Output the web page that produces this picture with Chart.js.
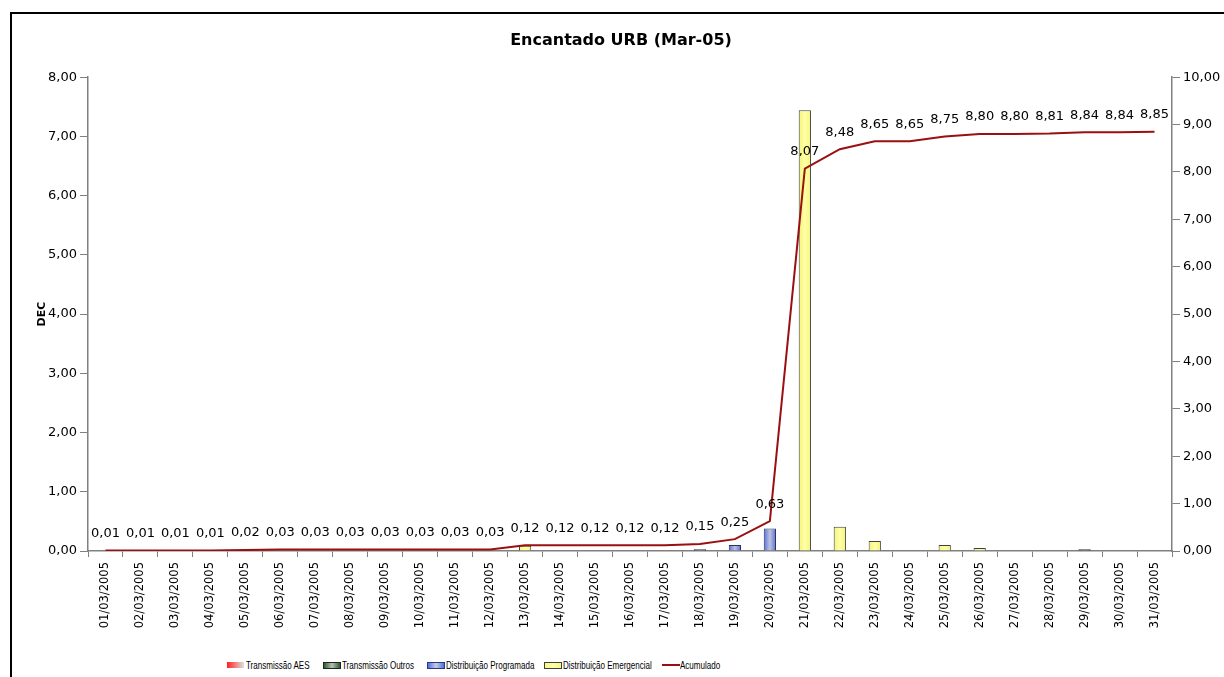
<!DOCTYPE html>
<html lang="pt">
<head>
  <meta charset="UTF-8">
  <title>Encantado URB (Mar-05)</title>
  <script src="https://cdn.jsdelivr.net/npm/chart.js"></script>
  <style>
    body { margin: 0; background: #fff; overflow: hidden; width: 1224px; height: 677px; position: relative; }
    .frame { position: absolute; left: 10px; top: 12px; width: 1330px; height: 700px; border: 2px solid #000; }
    .wrap { position: absolute; left: 12px; top: 13px; width: 1318px; height: 630px; }
    .legend { position: absolute; top: 657px; left: 0; width: 1224px; height: 16px;
      font-family: "Liberation Sans", Arial, sans-serif; font-size: 11px; color: #000; }
    .legend span { position: absolute; white-space: nowrap; line-height: 16px; transform: scaleX(0.73); transform-origin: left center; }
    .legend i { position: absolute; display: block; }
  </style>
</head>
<body>
  <div class="frame"></div>
  <div class="wrap"><canvas id="chartDec"></canvas></div>
  <div class="legend">
    <i style="left:227px; top:5px; width:17px; height:6px; background:linear-gradient(to right,#ff2020,#e0e0e0);"></i>
    <span style="left:246px;">Transmissão AES</span>
    <i style="left:323px; top:5px; width:16px; height:5px; border:1px solid #1a2a1a; background:linear-gradient(to right,#2f5a2f,#b8c0b8,#2f5a2f);"></i>
    <span style="left:342px;">Transmissão Outros</span>
    <i style="left:427px; top:5px; width:16px; height:5px; border:1px solid #2a3a80; background:linear-gradient(to right,#5070e8,#c8cce0,#5070e8);"></i>
    <span style="left:446px;">Distribuição Programada</span>
    <i style="left:544px; top:5px; width:16px; height:5px; border:1px solid #404040; background:linear-gradient(to right,#f8f880,#ffffa8,#f8f880);"></i>
    <span style="left:563px;">Distribuição Emergencial</span>
    <i style="left:662px; top:7px; width:18px; height:2px; background:#9a1010;"></i>
    <span style="left:680px;">Acumulado</span>
  </div>

  <script>
    var days = ["01/03/2005", "02/03/2005", "03/03/2005", "04/03/2005", "05/03/2005", "06/03/2005",
      "07/03/2005", "08/03/2005", "09/03/2005", "10/03/2005", "11/03/2005", "12/03/2005",
      "13/03/2005", "14/03/2005", "15/03/2005", "16/03/2005", "17/03/2005", "18/03/2005",
      "19/03/2005", "20/03/2005", "21/03/2005", "22/03/2005", "23/03/2005", "24/03/2005",
      "25/03/2005", "26/03/2005", "27/03/2005", "28/03/2005", "29/03/2005", "30/03/2005", "31/03/2005"];

    var transmissaoAES = [0, 0, 0, 0, 0, 0, 0, 0, 0, 0, 0, 0, 0, 0, 0, 0, 0, 0, 0, 0, 0, 0, 0, 0, 0, 0, 0, 0, 0, 0, 0];
    var transmissaoOutros = [0.01, 0, 0, 0, 0, 0, 0, 0, 0, 0, 0, 0, 0, 0, 0, 0, 0, 0.03, 0, 0, 0, 0, 0, 0, 0, 0, 0, 0.01, 0.03, 0, 0.01];
    var distProgramada = [0, 0, 0, 0, 0, 0, 0, 0, 0, 0, 0, 0, 0, 0, 0, 0, 0, 0, 0.10, 0.38, 0, 0, 0, 0, 0, 0, 0, 0, 0, 0, 0];
    var distEmergencial = [0, 0, 0, 0, 0, 0, 0, 0, 0, 0, 0, 0, 0.09, 0, 0, 0, 0, 0, 0, 0, 7.44, 0.41, 0.17, 0, 0.10, 0.05, 0, 0, 0, 0, 0];
    var acumulado = [0.01, 0.01, 0.01, 0.01, 0.02, 0.03, 0.03, 0.03, 0.03, 0.03, 0.03, 0.03,
      0.12, 0.12, 0.12, 0.12, 0.12, 0.15, 0.25, 0.63, 8.07, 8.48, 8.65, 8.65, 8.75, 8.80,
      8.80, 8.81, 8.84, 8.84, 8.85];

    var fontFamily = "'DejaVu Sans', Verdana, sans-serif";
    var barPct = 0.35;

    function fmt(v) {
      return Number(v).toFixed(2).replace(".", ",");
    }

    // Excel-like shading: colour at edges, lighter in the middle
    function shaded(edge, mid) {
      return function (c) {
        var chart = c.chart;
        var xs = chart.scales.x;
        if (!chart.chartArea || !xs || c.dataIndex === undefined) return edge;
        var cx = xs.getPixelForValue(c.dataIndex);
        var half = (xs.width / days.length) * barPct / 2;
        if (!isFinite(cx) || !isFinite(half) || half <= 0) return edge;
        var g = chart.ctx.createLinearGradient(cx - half, 0, cx + half, 0);
        g.addColorStop(0, edge);
        g.addColorStop(0.5, mid);
        g.addColorStop(1, edge);
        return g;
      };
    }

    var valueLabels = {
      id: "valueLabels",
      afterDatasetsDraw: function (chart) {
        var meta = chart.getDatasetMeta(4);
        var ctx = chart.ctx;
        ctx.save();
        ctx.font = "13px " + fontFamily;
        ctx.fillStyle = "#000";
        ctx.textAlign = "center";
        ctx.textBaseline = "middle";
        meta.data.forEach(function (pt, i) {
          ctx.fillText(fmt(acumulado[i]), pt.x, pt.y - 17);
        });
        ctx.restore();
      }
    };

    function barSet(label, data, edge, mid, border) {
      return {
        type: "bar",
        label: label,
        data: data,
        yAxisID: "y",
        stack: "dec",
        order: 1,
        backgroundColor: shaded(edge, mid),
        borderColor: border,
        borderWidth: 1,
        barPercentage: barPct,
        categoryPercentage: 1
      };
    }

    new Chart(document.getElementById("chartDec"), {
      data: {
        labels: days,
        datasets: [
          barSet("Transmissão AES", transmissaoAES, "#ff2020", "#e0e0e0", "#802020"),
          barSet("Transmissão Outros", transmissaoOutros, "#203820", "#606860", "#000000"),
          barSet("Distribuição Programada", distProgramada, "#5070e8", "#c0c4d8", "#303050"),
          barSet("Distribuição Emergencial", distEmergencial, "#f4f478", "#ffffa8", "#404040"),
          {
            type: "line",
            label: "Acumulado",
            data: acumulado,
            yAxisID: "y1",
            order: 0,
            borderColor: "#9a1010",
            borderWidth: 2,
            pointRadius: 0,
            tension: 0
          }
        ]
      },
      options: {
        responsive: true,
        maintainAspectRatio: false,
        animation: false,
        layout: { padding: { left: 0, right: 100, top: 0, bottom: 0 } },
        plugins: {
          legend: { display: false },
          tooltip: { enabled: false },
          title: {
            display: true,
            text: "Encantado URB (Mar-05)",
            color: "#000",
            font: { family: fontFamily, size: 16, weight: "bold" },
            padding: { top: 18, bottom: 27 }
          }
        },
        scales: {
          x: {
            stacked: true,
            afterFit: function (s) { s.height = 92; },
            grid: { display: true, drawOnChartArea: false, color: "#808080", tickLength: 6 },
            border: { color: "#808080", width: 1.5 },
            ticks: {
              color: "#000",
              font: { family: fontFamily, size: 11.5 },
              minRotation: 90,
              maxRotation: 90,
              autoSkip: false,
              padding: 5
            }
          },
          y: {
            position: "left",
            stacked: true,
            min: 0,
            max: 8,
            afterFit: function (s) { s.width = 76; },
            grid: { display: true, drawOnChartArea: false, color: "#808080", tickLength: 8 },
            border: { color: "#808080", width: 1.5 },
            title: {
              display: true,
              text: "DEC",
              color: "#000",
              font: { family: fontFamily, size: 11, weight: "bold" },
              padding: { top: 24, bottom: 0 }
            },
            ticks: {
              stepSize: 1,
              color: "#000",
              font: { family: fontFamily, size: 13 },
              padding: 3,
              callback: function (v) { return fmt(v); }
            }
          },
          y1: {
            position: "right",
            min: 0,
            max: 10,
            afterFit: function (s) { s.width = 58; },
            grid: { display: true, drawOnChartArea: false, color: "#808080", tickLength: 8 },
            border: { color: "#808080", width: 1.5 },
            ticks: {
              stepSize: 1,
              color: "#000",
              font: { family: fontFamily, size: 13 },
              padding: 3,
              callback: function (v) { return fmt(v); }
            }
          }
        }
      },
      plugins: [valueLabels]
    });
  </script>
</body>
</html>
